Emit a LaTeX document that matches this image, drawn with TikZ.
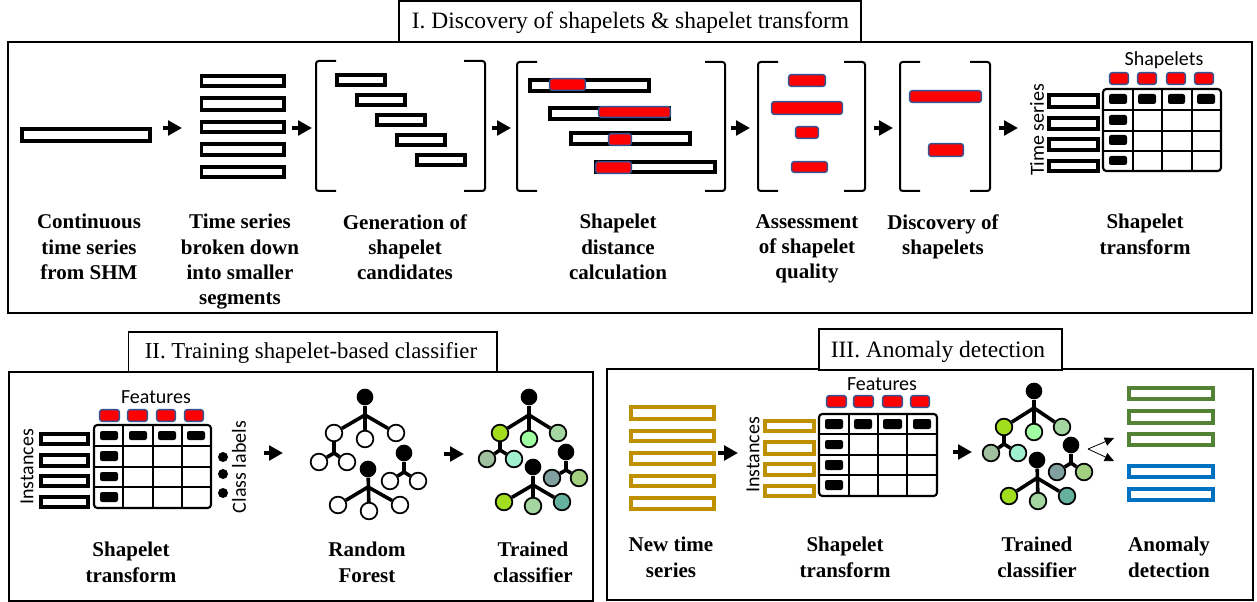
\documentclass[tikz,border=0pt]{standalone}
\usepackage{fontspec}
\setmainfont{Liberation Serif}
\newfontfamily\sanslbl{Carlito}
\usetikzlibrary{arrows.meta}
\definecolor{redf}{HTML}{FF0000}
\definecolor{redb}{HTML}{2F5597}
\definecolor{gold}{HTML}{BF9000}
\definecolor{grn}{HTML}{548235}
\definecolor{blu}{HTML}{0070C0}
\definecolor{la}{HTML}{A2DE1E}
\definecolor{lb}{HTML}{A0FFA0}
\definecolor{lc}{HTML}{A3D6A0}
\definecolor{ld}{HTML}{A0C0A0}
\definecolor{le}{HTML}{A0F0D0}
\definecolor{lf}{HTML}{66B0A0}
\definecolor{lg}{HTML}{80A0A0}
\definecolor{lh}{HTML}{A0D080}
\tikzset{
  frame/.style={draw=black,line width=1.5pt,fill=white,inner sep=0pt},
  titlebox/.style={draw=black,line width=1.1pt,fill=white,inner sep=0pt},
  titletxt/.style={inner sep=0pt,font=\fontsize{17.6}{22}\selectfont},
  lbl/.style={align=center,inner sep=0pt,anchor=north,font=\fontsize{15.75}{19}\selectfont\bfseries},
  sanstxt/.style={inner sep=0pt,font=\fontsize{15}{18}\sanslbl},
  tsrect/.style={draw=#1,line width=2.7pt,fill=white,inner sep=0pt},
  tsrect/.default=black,
  redrect/.style={draw=redb,line width=1pt,fill=redf,rounded corners=1.8pt,inner sep=0pt},
  blkrect/.style={fill=black,rounded corners=1.6pt,inner sep=0pt},
  flow/.style={line width=3.6pt,-{Triangle[length=10.5pt,width=11pt]}},
  thinflow/.style={line width=0.6pt,-{Triangle[length=7pt,width=6.5pt]}},
  brk/.style={line width=1.5pt,rounded corners=2pt},
  tblout/.style={line width=1.6pt,rounded corners=2.5pt},
  tblin/.style={line width=1.5pt},
  rootn/.style={circle,fill=black,inner sep=0pt,minimum size=12.5pt},
  leaf/.style={circle,draw=black,line width=1.3pt,fill=#1,inner sep=0pt,minimum size=12.5pt},
  leaf/.default=white,
  edge/.style={line width=2.7pt},
}
% outer bounds in reference pixels: style, name, x1, y1, x2, y2, shrink
\newcommand\pxrect[7]{%
  \pgfmathsetmacro\cxa{(#3+#5)/2}\pgfmathsetmacro\cya{(#4+#6)/2}%
  \pgfmathsetmacro\wwa{(#5-#3-#7)*0.75}\pgfmathsetmacro\hha{(#6-#4-#7)*0.75}%
  \node[#1,minimum width=\wwa pt,minimum height=\hha pt] (#2) at (\cxa,\cya) {};}
\newcommand\ts[6][black]{\pxrect{tsrect=#1}{#2}{#3}{#4}{#5}{#6}{3.6}}
\newcommand\rd[5]{\pxrect{redrect}{#1}{#2}{#3}{#4}{#5}{1.3}}
\newcommand\bk[5]{\pxrect{blkrect}{#1}{#2}{#3}{#4}{#5}{0}}
% block arrow between two named coordinates
\newcommand\flowarrow[4]{\coordinate (#1s) at (#2,#4); \coordinate (#1e) at (#3,#4); \draw[flow] (#1s) -- (#1e);}
% pair of square brackets
\newcommand\brackets[6]{% xl, xlt, xrt, xr, ytop, ybot
  \draw[brk] (#2,#5) -- (#1,#5) -- (#1,#6) -- (#2,#6);
  \draw[brk] (#3,#5) -- (#4,#5) -- (#4,#6) -- (#3,#6);}
% tree with three children: prefix, root, junction, c1, fill1, c2, fill2, c3, fill3
\newcommand\treethree[9]{%
  \node[rootn] (#1r) at #2 {};
  \coordinate (#1j) at #3;
  \node[leaf=#5] (#1a) at #4 {};
  \node[leaf=#7] (#1b) at #6 {};
  \node[leaf=#9] (#1c) at #8 {};
  \draw[edge] (#1r) -- (#1b);
  \draw[edge] (#1j) -- (#1a);
  \draw[edge] (#1j) -- (#1c);}
% two children under an existing node: parent, prefix, junction, c1, fill1, c2, fill2
\newcommand\twokids[7]{%
  \coordinate (#2j) at #3;
  \node[leaf=#5] (#2a) at #4 {};
  \node[leaf=#7] (#2b) at #6 {};
  \draw[edge] (#1) -- (#2j);
  \draw[edge] (#2j) -- (#2a);
  \draw[edge] (#2j) -- (#2b);}
\begin{document}
\begin{tikzpicture}[x=0.75pt,y=-0.75pt]
\useasboundingbox (0,0) rectangle (1257,602);
\fill[white] (0,0) rectangle (1257,602);
% ---------- frames
\pxrect{frame}{frameI}{7.5}{42}{1252}{313}{0}
\pxrect{titlebox}{titleI}{399}{1}{861}{42}{0}
\node[titletxt] (ttI) at (630.5,23) {I. Discovery of shapelets \& shapelet transform};
\pxrect{frame}{frameII}{9}{372}{593}{600.5}{0}
\pxrect{titlebox}{titleII}{128.7}{332}{497}{372}{0}
\node[titletxt,font=\fontsize{17.1}{22}\selectfont] (ttII) at (311,353) {II. Training shapelet-based classifier};
\pxrect{frame}{frameIII}{607}{369}{1253}{600}{0}
\pxrect{titlebox}{titleIII}{819}{329}{1062}{370}{0}
\node[titletxt] (ttIII) at (938,352) {III. Anomaly detection};
% ---------- part I
\ts{cont}{20}{127}{152}{143}
\flowarrow{fa}{163}{182}{128}
\ts{sa}{199.5}{74}{286}{88}
\ts{sb}{199.5}{96}{286}{112}
\ts{sc}{199.5}{120}{286}{134}
\ts{sd}{199.5}{142}{286}{157}
\ts{se}{199.5}{165}{286}{179}
\flowarrow{fb}{292}{312}{128}
\brackets{316}{336}{464}{485}{61}{191}
\ts{ca}{335}{73}{387}{87}
\ts{cb}{355}{93}{407}{107}
\ts{cc}{375}{113}{427}{127}
\ts{cd}{395}{133}{447}{147}
\ts{ce}{415}{153}{467}{167}
\flowarrow{fc}{492}{511}{128}
\brackets{517}{537}{705}{725}{62}{191}
\ts{da}{528}{78}{651}{93}
\ts{db}{548}{106}{671}{121}
\ts{dc}{569}{131}{692}{146}
\ts{dd}{594}{160}{717}{174}
\rd{dra}{549}{78}{586}{91}
\rd{drb}{598}{106}{671}{118}
\rd{drc}{608}{133}{632}{146}
\rd{drd}{595}{161}{632}{174}
\flowarrow{fd}{731}{750}{128}
\brackets{758}{778}{844}{865}{62}{191}
\rd{qa}{788}{74}{826}{87}
\rd{qb}{771}{101}{843}{115}
\rd{qc}{795}{126}{819}{139}
\rd{qd}{791}{161}{828}{173}
\flowarrow{fe}{874}{893}{128}
\brackets{900}{920}{970}{990}{62}{191}
\rd{ya}{909}{90}{982}{103}
\rd{yb}{928}{143}{964}{157}
\flowarrow{ff}{999}{1018}{128}
\node[sanstxt] (shp) at (1164,60) {Shapelets};
\node[sanstxt,rotate=90] (tser) at (1037,130) {Time series};
\foreach \i/\a/\b in {a/1109/1129,b/1137/1157,c/1166/1186,d/1194/1214} {\rd{t1r\i}{\a}{72}{\b}{85}}
\ts{t1a}{1047}{93}{1100}{109}
\ts{t1b}{1047}{116}{1100}{131}
\ts{t1c}{1047}{137}{1100}{152}
\ts{t1d}{1047}{159}{1100}{173}
\draw[tblout] (1103,89) rectangle (1221,171);
\draw[tblin] (1133,89) -- (1133,171) (1162,89) -- (1162,171) (1192,89) -- (1192,171)
  (1103,110) -- (1221,110) (1103,131) -- (1221,131) (1103,151) -- (1221,151);
\foreach \i/\a/\b in {a/1109/1127,b/1138/1156,c/1168/1185,d/1197/1215} {\bk{t1k\i}{\a}{94}{\b}{104}}
\bk{t1ke}{1109}{115}{1127}{125}
\bk{t1kf}{1109}{135}{1127}{145}
\bk{t1kg}{1109}{156}{1127}{165}
\node[lbl] (la1) at (89,214) {Continuous\\time series\\from SHM};
\node[lbl] (la2) at (240,214) {Time series\\broken down\\into smaller\\segments};
\node[lbl] (la3) at (405,214) {Generation of\\shapelet\\candidates};
\node[lbl] (la4) at (618,214) {Shapelet\\distance\\calculation};
\node[lbl] (la5) at (807,214) {Assessment\\of shapelet\\quality};
\node[lbl] (la6) at (943,214) {Discovery of\\shapelets};
\node[lbl] (la7) at (1145,214) {Shapelet\\transform};
% ---------- part II
\node[sanstxt] (fe2) at (156,397) {Features};
\node[sanstxt,rotate=90] (in2) at (27,467) {Instances};
\node[sanstxt,rotate=90] (cl2) at (239,467) {Class labels};
\foreach \i/\a/\b in {a/99/120,b/127/148,c/156/176,d/184/204} {\rd{t2r\i}{\a}{409}{\b}{422}}
\ts{t2a}{39}{432}{90}{446}
\ts{t2b}{39}{453}{90}{468}
\ts{t2c}{39}{474}{90}{488}
\ts{t2d}{39}{495}{90}{509}
\draw[tblout] (94,425) rectangle (211,508);
\draw[tblin] (123,425) -- (123,508) (153,425) -- (153,508) (182,425) -- (182,508)
  (94,446) -- (211,446) (94,467) -- (211,467) (94,487) -- (211,487);
\foreach \i/\a/\b in {a/100/118,b/129/147,c/158/176,d/187/205} {\bk{t2k\i}{\a}{431}{\b}{440}}
\bk{t2ke}{100}{451}{118}{461}
\bk{t2kf}{100}{472}{118}{481}
\bk{t2kg}{100}{492}{118}{502}
\foreach \i/\yy in {a/457,b/474,c/493} {\node[circle,fill=black,inner sep=0pt,minimum size=7.5pt] (dot\i) at (223,\yy) {};}
\flowarrow{fg}{264}{283}{453}
\treethree{ra}{(365,397)}{(365,415)}{(334,433)}{white}{(365,439)}{white}{(396,433)}{white}
\twokids{raa}{rl}{(334,453)}{(319,462)}{white}{(347,462)}{white}
\treethree{rb}{(368,469)}{(368,487)}{(338,505)}{white}{(369,511)}{white}{(400,505)}{white}
\node[rootn] (rcr) at (404,453) {};
\twokids{rcr}{rc}{(404,472)}{(390,481)}{white}{(418,481)}{white}
\flowarrow{fh}{444}{464}{454}
\treethree{pa}{(529,397)}{(529,415)}{(500,433)}{la}{(529,439)}{lb}{(558,433)}{lc}
\twokids{paa}{pl}{(500,450)}{(487,459)}{ld}{(514,459)}{le}
\treethree{pb}{(533,467)}{(533,485)}{(504,502)}{la}{(533,506)}{lc}{(562,502)}{lf}
\node[rootn] (pcr) at (566,452) {};
\twokids{pcr}{pc}{(566,470)}{(552,478)}{lg}{(579,478)}{lh}
\node[lbl] (lb1) at (131,542) {Shapelet\\transform};
\node[lbl] (lb2) at (367,542) {Random\\Forest};
\node[lbl] (lb3) at (533,542) {Trained\\classifier};
% ---------- part III
\ts[gold]{na}{629}{405}{716}{421}
\ts[gold]{nb}{629}{429}{716}{443}
\ts[gold]{nc}{629}{451}{716}{466}
\ts[gold]{nd}{629}{474}{716}{488}
\ts[gold]{ne}{629}{496}{716}{511}
\flowarrow{fi}{718}{738}{453}
\node[sanstxt] (fe3) at (882,384) {Features};
\node[sanstxt,rotate=90] (in3) at (753,455) {Instances};
\foreach \i/\a/\b in {a/826/847,b/853/874,c/882/903,d/910/930} {\rd{t3r\i}{\a}{395}{\b}{408}}
\ts[gold]{t3a}{763}{419}{816}{433}
\ts[gold]{t3b}{763}{440}{816}{456}
\ts[gold]{t3c}{763}{462}{816}{477}
\ts[gold]{t3d}{763}{484}{816}{498}
\draw[tblout] (819,414) rectangle (937,496);
\draw[tblin] (849,414) -- (849,496) (878,414) -- (878,496) (907,414) -- (907,496)
  (819,434) -- (937,434) (819,455) -- (937,455) (819,475) -- (937,475);
\foreach \i/\a/\b in {a/825/843,b/854/872,c/883/902,d/913/931} {\bk{t3k\i}{\a}{419}{\b}{429}}
\bk{t3ke}{825}{440}{843}{449}
\bk{t3kf}{825}{460}{843}{470}
\bk{t3kg}{825}{480}{843}{490}
\flowarrow{fj}{953}{972}{452}
\treethree{wa}{(1034,391)}{(1034,408)}{(1004,427)}{la}{(1034,432)}{lb}{(1062,427)}{lc}
\twokids{waa}{wl}{(1004,444)}{(991,453)}{ld}{(1018,453)}{le}
\treethree{wb}{(1037,460)}{(1037,478)}{(1009,496)}{la}{(1038,501)}{lc}{(1067,496)}{lf}
\node[rootn] (wcr) at (1071,445) {};
\twokids{wcr}{wc}{(1071,463)}{(1057,472)}{lg}{(1084,472)}{lh}
\coordinate (split) at (1088,449);
\coordinate (splitu) at (1114,438);
\coordinate (splitd) at (1114,461);
\draw[thinflow] (split) -- (splitu);
\draw[thinflow] (split) -- (splitd);
\ts[grn]{ga}{1127}{386}{1215}{401}
\ts[grn]{gb}{1127}{409}{1215}{425}
\ts[grn]{gc}{1127}{432}{1215}{447}
\ts[blu]{ba}{1127}{464}{1215}{479}
\ts[blu]{bb}{1127}{487}{1215}{502}
\node[lbl] (lc1) at (671,537) {New time\\series};
\node[lbl] (lc2) at (845,537) {Shapelet\\transform};
\node[lbl] (lc3) at (1037,537) {Trained\\classifier};
\node[lbl] (lc4) at (1169,537) {Anomaly\\detection};
\end{tikzpicture}
\end{document}
